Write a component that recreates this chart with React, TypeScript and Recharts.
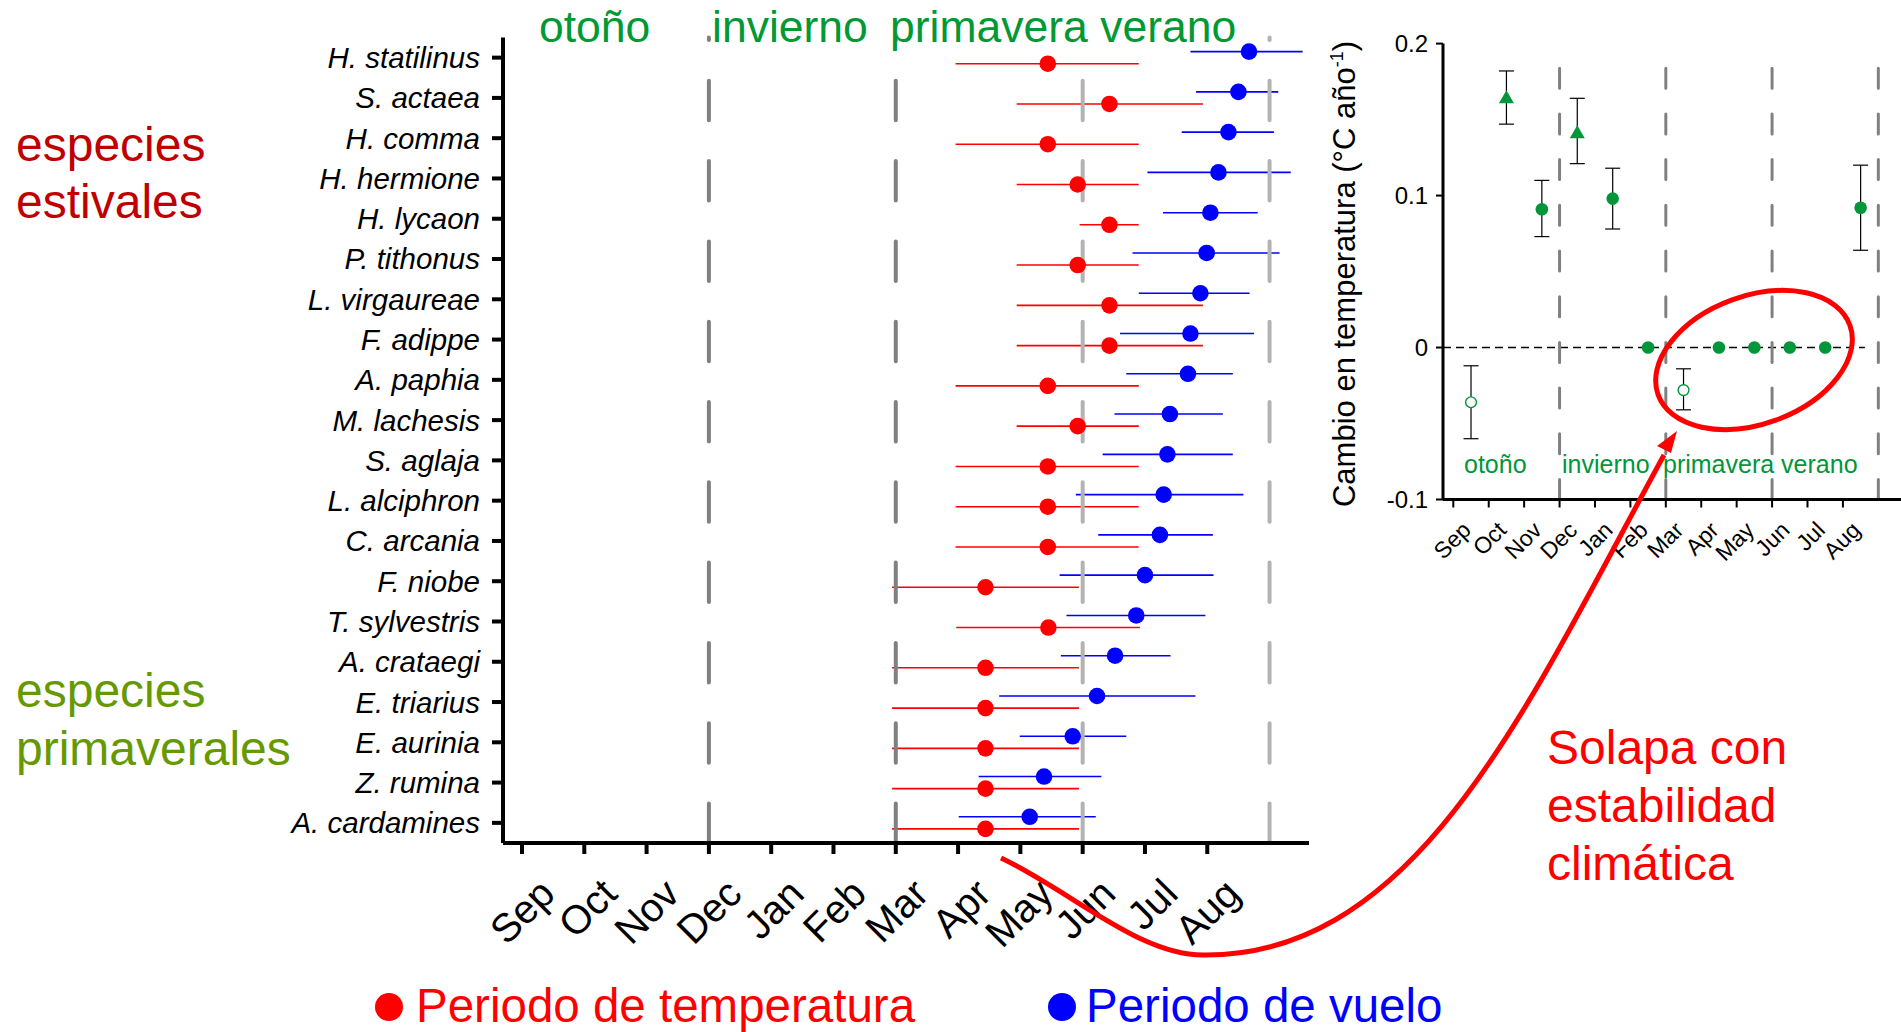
import React from 'react';
import { ScatterChart, Scatter, XAxis, YAxis, ErrorBar, ReferenceLine } from 'recharts';

const FONT = '"Liberation Sans", Arial, Helvetica, sans-serif';
const RED = '#ff0000';
const BLUE = '#0000ff';
const GREEN = '#009639';

// species, top to bottom
const species = [
  'H. statilinus', 'S. actaea', 'H. comma', 'H. hermione', 'H. lycaon',
  'P. tithonus', 'L. virgaureae', 'F. adippe', 'A. paphia', 'M. lachesis',
  'S. aglaja', 'L. alciphron', 'C. arcania', 'F. niobe', 'T. sylvestris',
  'A. crataegi', 'E. triarius', 'E. aurinia', 'Z. rumina', 'A. cardamines',
];

// months counted from Sep = 0
const tempMid = [8.44, 9.43, 8.44, 8.92, 9.43, 8.92, 9.43, 9.43, 8.44, 8.92, 8.44, 8.44, 8.44, 7.44, 8.45, 7.44, 7.44, 7.44, 7.44, 7.44];
const tempLow = [6.96, 7.94, 6.96, 7.94, 8.95, 7.94, 7.94, 7.94, 6.96, 7.94, 6.96, 6.96, 6.96, 5.94, 6.97, 5.94, 5.94, 5.94, 5.94, 5.94];
const tempHigh = [9.9, 10.93, 9.9, 9.9, 9.9, 9.9, 10.93, 10.93, 9.9, 9.9, 9.9, 9.9, 9.9, 8.94, 9.92, 8.94, 8.94, 8.94, 8.94, 8.94];

const flightMid = [11.67, 11.5, 11.34, 11.18, 11.05, 10.99, 10.89, 10.73, 10.69, 10.4, 10.36, 10.3, 10.24, 10.0, 9.86, 9.52, 9.23, 8.84, 8.38, 8.15];
const flightLow = [10.73, 10.82, 10.59, 10.04, 10.29, 9.8, 9.9, 9.6, 9.7, 9.51, 9.32, 8.89, 9.25, 8.63, 8.74, 8.65, 7.66, 7.99, 7.33, 7.01];
const flightHigh = [12.53, 12.14, 12.07, 12.34, 11.81, 12.16, 11.68, 11.75, 11.41, 11.25, 11.41, 11.58, 11.09, 11.1, 10.97, 10.41, 10.81, 9.7, 9.3, 9.21];

const monthLabels = ['Sep', 'Oct', 'Nov', 'Dec', 'Jan', 'Feb', 'Mar', 'Apr', 'May', 'Jun', 'Jul', 'Aug'];
const monthTicks = monthLabels.map((_, i) => i);
const rowTicks = species.map((_, i) => i);
const seasonBounds = [3, 6, 9, 12];

// inset: temperature trend per month (°C / year)
const trendValue = [-0.036, 0.164, 0.091, 0.141, 0.098, 0, -0.028, 0, 0, 0, 0, 0.092];
const trendLow = [-0.06, 0.147, 0.073, 0.121, 0.078, null, -0.041, null, null, null, null, 0.064];
const trendHigh = [-0.012, 0.182, 0.11, 0.164, 0.118, null, -0.014, null, null, null, null, 0.12];
const trendMarker = ['open', 'triangle', 'filled', 'triangle', 'filled', 'filled', 'open', 'filled', 'filled', 'filled', 'filled', 'filled'];

const tempData = species.map((name, i) => ({
  name, x: tempMid[i], y: i + 0.15, err: [tempMid[i] - tempLow[i], tempHigh[i] - tempMid[i]],
}));
const flightData = species.map((name, i) => ({
  name, x: flightMid[i], y: i - 0.15, err: [flightMid[i] - flightLow[i], flightHigh[i] - flightMid[i]],
}));

const trendAll = monthLabels.map((m, i) => ({
  month: m, x: i + 0.5, y: trendValue[i], marker: trendMarker[i],
  err: trendLow[i] == null ? null : [trendValue[i] - (trendLow[i] as number), (trendHigh[i] as number) - trendValue[i]],
}));
const trendWithErr = trendAll.filter((d) => d.err != null);
const trendNoErr = trendAll.filter((d) => d.err == null);

const dot = (color: string) => (props: any) => (
  <circle cx={props.cx} cy={props.cy} r={8.3} fill={color} />
);

const trendShape = (props: any) => {
  const { cx, cy, payload } = props;
  if (payload.marker === 'triangle') {
    return <polygon points={`${cx},${cy - 8} ${cx - 7.5},${cy + 5} ${cx + 7.5},${cy + 5}`} fill={GREEN} />;
  }
  if (payload.marker === 'open') {
    return <circle cx={cx} cy={cy} r={5.4} fill="#fff" stroke={GREEN} strokeWidth={1.4} />;
  }
  return <circle cx={cx} cy={cy} r={6.3} fill={GREEN} />;
};

const mainTick = (props: any) => {
  const ax = props.x + 35;
  const ay = props.y + 40;
  return (
    <text x={ax} y={ay} transform={`rotate(-45 ${ax} ${ay})`} textAnchor="end"
      fontSize={40} fontFamily={FONT} fill="#000">
      {monthLabels[props.payload.value]}
    </text>
  );
};

const insetTick = (props: any) => {
  const ax = props.x + 19;
  const ay = props.y + 22;
  return (
    <text x={ax} y={ay} transform={`rotate(-45 ${ax} ${ay})`} textAnchor="end"
      fontSize={23} fontFamily={FONT} fill="#000">
      {monthLabels[props.payload.value]}
    </text>
  );
};

function MainChart() {
  return (
    <ScatterChart width={1330} height={1032} margin={{ top: 37.5, right: 21, bottom: 39, left: 0 }}>
      <XAxis type="number" dataKey="x" domain={[-0.305, 12.633]} ticks={monthTicks} interval={0}
        height={150} tickSize={11} allowDataOverflow
        axisLine={{ stroke: '#000', strokeWidth: 4 }} tickLine={{ stroke: '#000', strokeWidth: 4 }}
        tick={mainTick} />
      <YAxis type="number" dataKey="y" domain={[-0.5, 19.5]} reversed ticks={rowTicks} interval={0}
        width={503} tickSize={11} tickMargin={12} allowDataOverflow
        tickFormatter={(v: number) => species[v]}
        axisLine={{ stroke: '#000', strokeWidth: 4 }} tickLine={{ stroke: '#000', strokeWidth: 4 }}
        tick={{ fontSize: 29.5, fontStyle: 'italic', fill: '#000', fontFamily: FONT }} />
      <Scatter name="Periodo de temperatura" data={tempData} fill={RED} shape={dot(RED)} isAnimationActive={false}>
        <ErrorBar dataKey="err" direction="x" width={0} stroke={RED} strokeWidth={1.6} isAnimationActive={false} />
      </Scatter>
      <Scatter name="Periodo de vuelo" data={flightData} fill={BLUE} shape={dot(BLUE)} isAnimationActive={false}>
        <ErrorBar dataKey="err" direction="x" width={0} stroke={BLUE} strokeWidth={1.6} isAnimationActive={false} />
      </Scatter>
      {seasonBounds.map((b) => (
        <ReferenceLine key={b} segment={[{ x: b, y: 19.5 }, { x: b, y: -0.5 }]} ifOverflow="visible"
          stroke={b <= 6 ? '#808080' : '#b3b3b3'} strokeWidth={4} strokeDasharray="39.5 40.8"
          strokeLinecap="round" />
      ))}
    </ScatterChart>
  );
}

function InsetChart() {
  return (
    <ScatterChart width={601} height={580} margin={{ top: 43.6, right: 0, bottom: 0.5, left: 0 }}>
      <XAxis type="number" dataKey="x" domain={[-0.291, 12.64]} ticks={monthTicks} interval={0}
        height={80} tickSize={8} allowDataOverflow
        axisLine={{ stroke: '#000', strokeWidth: 3 }} tickLine={{ stroke: '#000', strokeWidth: 2 }}
        tick={insetTick} />
      <YAxis type="number" dataKey="y" domain={[-0.1, 0.2]} ticks={[-0.1, 0, 0.1, 0.2]} interval={0}
        width={143} tickSize={7} tickMargin={8} allowDataOverflow
        tickFormatter={(v: number) => String(v)}
        axisLine={{ stroke: '#000', strokeWidth: 3 }} tickLine={{ stroke: '#000', strokeWidth: 2 }}
        tick={{ fontSize: 24, fill: '#000', fontFamily: FONT }} />
      <ReferenceLine segment={[{ x: -0.291, y: 0 }, { x: 11.62, y: 0 }]} ifOverflow="visible"
        stroke="#000" strokeWidth={1.5} strokeDasharray="8 5" />
      {seasonBounds.map((b) => (
        <ReferenceLine key={b} segment={[{ x: b, y: -0.1 }, { x: b, y: 0.2 }]} ifOverflow="visible"
          stroke="#808080" strokeWidth={3} strokeDasharray="20 25.7" strokeLinecap="round" />
      ))}
      <Scatter name="tendencia" data={trendWithErr} fill={GREEN} shape={trendShape} isAnimationActive={false}>
        <ErrorBar dataKey="err" direction="y" width={7.5} stroke="#000" strokeWidth={1.2} isAnimationActive={false} />
      </Scatter>
      <Scatter name="estable" data={trendNoErr} fill={GREEN} shape={trendShape} isAnimationActive={false} />
    </ScatterChart>
  );
}

function Overlay() {
  const t = { fontFamily: FONT };
  return (
    <svg width={1901} height={1032} style={{ position: 'absolute', left: 0, top: 0, pointerEvents: 'none' }}>
      {/* season titles, main panel */}
      <g fill="#009933" fontSize={44.5} {...t}>
        <text x={539} y={42}>otoño</text>
        <text x={712} y={42}>invierno</text>
        <text x={890} y={42}>primavera verano</text>
      </g>
      {/* group labels */}
      <g fontSize={48} {...t}>
        <text x={16} y={161} fill="#c00000">especies</text>
        <text x={16} y={218} fill="#c00000">estivales</text>
        <text x={16} y={707} fill="#669900">especies</text>
        <text x={16} y={765} fill="#669900">primaverales</text>
      </g>
      {/* inset season titles */}
      <g fill={GREEN} fontSize={25} {...t}>
        <text x={1464} y={473}>otoño</text>
        <text x={1562} y={473}>invierno</text>
        <text x={1663} y={473}>primavera verano</text>
      </g>
      {/* inset y label */}
      <text x={1355} y={274} transform="rotate(-90 1355 274)" textAnchor="middle" fontSize={31} fill="#000" {...t}>
        <tspan>Cambio en temperatura (°C año</tspan>
        <tspan fontSize={18} dy={-12}>-1</tspan>
        <tspan dy={12}>)</tspan>
      </text>
      {/* annotation */}
      <g fill={RED} fontSize={48} {...t}>
        <text x={1547} y={764}>Solapa con</text>
        <text x={1547} y={822}>estabilidad</text>
        <text x={1547} y={880}>climática</text>
      </g>
      <ellipse cx={1754} cy={360} rx={102} ry={64} transform="rotate(-20 1754 360)" fill="none" stroke={RED} strokeWidth={5} />
      <path d="M 1001 858 C 1070 890 1140 957 1206 955 C 1420 955 1530 700 1664 455" fill="none" stroke={RED} strokeWidth={5} />
      <polygon points="1677,431 1657,446 1671,453" fill={RED} />
      {/* legend */}
      <circle cx={389} cy={1007} r={14} fill={RED} />
      <text x={416} y={1022} fontSize={47.5} fill={RED} {...t}>Periodo de temperatura</text>
      <circle cx={1062} cy={1007} r={14} fill={BLUE} />
      <text x={1086} y={1022} fontSize={47.5} fill={BLUE} {...t}>Periodo de vuelo</text>
    </svg>
  );
}

export default function App() {
  return (
    <div style={{ position: 'absolute', left: 0, top: 0, width: 1901, height: 1032, background: '#fff', overflow: 'hidden' }}>
      <div style={{ position: 'absolute', left: 0, top: 0 }}>
        <MainChart />
      </div>
      <div style={{ position: 'absolute', left: 1300, top: 0 }}>
        <InsetChart />
      </div>
      <Overlay />
    </div>
  );
}
